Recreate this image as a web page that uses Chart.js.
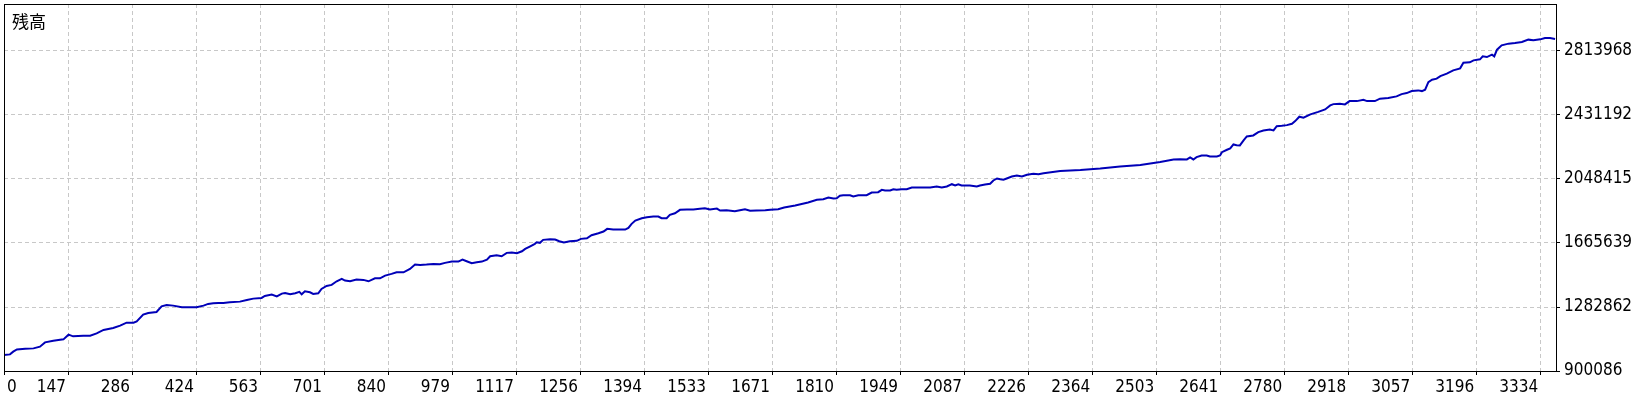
<!DOCTYPE html>
<html>
<head>
<meta charset="utf-8">
<script src="https://cdn.jsdelivr.net/npm/chart.js@4/dist/chart.umd.min.js"></script>
<style>
html,body{margin:0;padding:0;background:#fff;}
#wrap{width:1640px;height:400px;position:relative;}
</style>
</head>
<body>
<div id="wrap"><canvas id="c" width="1640" height="400"></canvas></div>
<script>
const SERIES_LABEL = '残高';

const TRADES = [0,13,20,28,46,64,78,89,107,118,129,140,150,172,187,201,216,237,252,266,281,288,302,313,331,342,353,367,386,404,418,433,443,454,465,476,490,512,527,541,559,566,581,592,603,610,621,632,641,646,653,664,671,682,689,700,711,722,733,740,751,765,780,791,805,816,827,841,852,867,881,892,903,917,932,946,957,972,986,995,1004,1015,1026,1037,1048,1055,1069,1080,1091,1102,1113,1124,1131,1142,1152,1156,1163,1170,1185,1196,1205,1215,1228,1243,1252,1265,1275,1290,1301,1309,1322,1337,1348,1355,1362,1370,1384,1395,1409,1420,1427,1438,1445,1456,1467,1482,1496,1510,1521,1532,1547,1554,1568,1586,1597,1608,1619,1633,1652,1663,1680,1693,1717,1745,1764,1778,1789,1800,1807,1814,1821,1836,1843,1854,1872,1883,1897,1905,1912,1923,1930,1937,1948,1959,1970,1988,2010,2024,2035,2046,2057,2064,2071,2078,2096,2111,2118,2129,2140,2147,2155,2162,2169,2176,2187,2198,2209,2220,2234,2245,2256,2292,2336,2379,2422,2466,2509,2538,2552,2567,2574,2581,2588,2599,2610,2617,2632,2639,2643,2654,2661,2668,2675,2682,2690,2697,2711,2722,2733,2747,2755,2762,2773,2784,2795,2802,2811,2820,2835,2852,2867,2878,2885,2899,2910,2920,2936,2950,2958,2975,2986,3004,3022,3033,3044,3055,3069,3077,3084,3091,3099,3109,3117,3131,3145,3160,3167,3181,3189,3203,3209,3218,3229,3234,3240,3250,3265,3279,3294,3308,3319,3334,3344,3355,3366];

const BALANCE = [995900,999500,1015600,1029400,1033600,1035400,1045600,1071300,1081500,1085700,1089300,1117400,1107300,1111400,1111400,1125200,1145600,1157500,1171300,1189300,1189300,1197100,1237200,1247400,1253300,1286900,1295300,1291100,1280900,1280900,1280900,1291100,1301200,1304800,1307200,1307200,1310800,1315000,1325200,1333000,1337200,1349100,1356900,1346700,1362900,1367100,1358700,1364700,1373100,1358700,1376700,1370700,1361100,1364700,1391100,1409000,1415000,1436600,1450900,1440700,1436600,1446700,1444900,1436600,1454500,1454500,1470700,1480900,1490400,1490400,1510800,1536500,1534800,1536500,1540700,1538300,1546700,1554500,1554500,1566500,1556300,1544300,1550300,1554500,1566500,1586200,1592200,1586200,1606600,1608400,1604200,1616200,1630500,1646100,1660500,1670100,1666500,1684400,1688000,1686200,1676100,1668300,1676100,1678400,1690400,1694000,1712000,1724000,1734100,1750300,1746100,1746100,1746100,1756300,1780200,1800000,1813800,1819800,1823900,1823900,1813800,1813800,1834100,1843700,1864100,1865900,1865900,1870000,1873600,1865900,1871800,1859900,1861700,1855700,1861700,1867700,1858100,1859900,1861700,1864100,1867700,1877800,1889800,1907800,1923900,1927500,1937700,1931700,1933500,1947900,1951500,1951500,1943700,1951500,1951500,1967600,1969400,1983800,1979600,1979600,1987400,1983800,1987400,1987400,1997600,1997600,1997600,2003600,1997600,2003600,2017300,2009600,2017300,2009600,2009600,2003600,2009600,2015500,2019700,2039500,2051500,2047300,2043700,2051500,2063400,2069400,2063400,2073600,2079600,2077200,2083200,2096400,2102400,2111300,2123300,2132300,2150300,2165200,2167000,2165200,2177200,2165200,2179000,2189200,2189200,2183200,2183200,2189200,2208900,2223300,2231100,2255000,2250800,2249000,2279000,2302900,2308900,2328700,2338900,2344800,2338900,2364600,2367000,2370600,2379000,2394500,2420900,2414900,2434700,2449600,2464600,2488500,2496300,2498700,2494500,2514300,2514300,2522700,2514300,2514300,2528700,2532300,2542400,2556200,2562200,2574200,2578400,2574200,2582500,2628100,2642400,2648400,2664000,2678300,2698100,2710100,2744200,2746000,2758000,2764000,2781900,2777700,2792100,2781900,2822000,2847800,2858000,2861600,2867500,2881900,2877700,2883700,2891500,2891500,2885500];

const X_TICK_LABELS = ['0','147','286','424','563','701','840','979','1117','1256','1394','1533','1671','1810','1949','2087','2226','2364','2503','2641','2780','2918','3057','3196','3334'];
const Y_TICKS = [900086,1282862,1665639,2048415,2431192,2813968];

const X_MAX = 3368;
const X_TICK_STEP = 138.9;
const Y_MIN = 900086;
const Y_MAX = 3095069;

const TICK_FONT = { family: '"DejaVu Sans Condensed", "DejaVu Sans", sans-serif', size: 17 };

const points = TRADES.map((t, i) => ({ x: t, y: BALANCE[i] }));

const framePlugin = {
  id: 'frame',
  afterDraw(chart) {
    const { ctx, chartArea: a, scales } = chart;
    ctx.save();
    ctx.strokeStyle = '#000';
    ctx.lineWidth = 1;
    ctx.setLineDash([]);
    ctx.strokeRect(Math.round(a.left) + 0.5, Math.round(a.top) + 0.5,
                   Math.round(a.right - a.left), Math.round(a.bottom - a.top));
    ctx.fillStyle = '#000';
    ctx.textAlign = 'left';
    ctx.textBaseline = 'top';
    ctx.font = '17px "Noto Sans CJK JP", sans-serif';
    ctx.fillText(SERIES_LABEL, a.left + 8, a.top + 9);
    ctx.font = '17px ' + TICK_FONT.family;
    ctx.textBaseline = 'middle';
    const x0 = scales.x.getPixelForValue(0);
    ctx.fillText(X_TICK_LABELS[0], x0 + 3, scales.x.top + 4 + 2 + 17 * 1.2 / 2);
    ctx.restore();
  }
};

const gridOpts = {
  color: '#c8c8c8',
  lineWidth: 1,
  tickLength: 4,
  tickColor: '#000',
  tickBorderDash: [],
  drawOnChartArea: true,
  drawTicks: true
};

new Chart(document.getElementById('c'), {
  type: 'line',
  data: {
    datasets: [{
      label: SERIES_LABEL,
      data: points,
      borderColor: '#0000b8',
      borderWidth: 2,
      pointRadius: 0,
      tension: 0,
      fill: false
    }]
  },
  options: {
    responsive: false,
    devicePixelRatio: 1,
    animation: false,
    layout: { padding: { left: 4, top: 4, right: 0, bottom: 0 } },
    plugins: { legend: { display: false }, tooltip: { enabled: false }, title: { display: false } },
    scales: {
      x: {
        type: 'linear',
        position: 'bottom',
        min: 0,
        max: X_MAX,
        afterBuildTicks: (s) => { s.ticks = X_TICK_LABELS.map((_, k) => ({ value: k * X_TICK_STEP })); },
        afterFit: (s) => { s.height = 29; s.paddingLeft = 0; s.paddingRight = 0; },
        grid: gridOpts,
        border: { display: true, color: '#000', width: 1, dash: [4, 3] },
        ticks: {
          autoSkip: false,
          maxRotation: 0,
          minRotation: 0,
          align: 'end',
          labelOffset: -2,
          padding: 2,
          color: '#000',
          font: TICK_FONT,
          callback: (v, i) => (i === 0 ? '' : X_TICK_LABELS[i])
        }
      },
      y: {
        type: 'linear',
        position: 'right',
        min: Y_MIN,
        max: Y_MAX,
        afterBuildTicks: (s) => { s.ticks = Y_TICKS.map(v => ({ value: v })); },
        afterFit: (s) => { s.width = 84; s.paddingTop = 0; s.paddingBottom = 0; },
        grid: gridOpts,
        border: { display: true, color: '#000', width: 1, dash: [4, 3] },
        ticks: {
          autoSkip: false,
          padding: 4,
          color: '#000',
          font: TICK_FONT,
          callback: (v, i) => String(Y_TICKS[i])
        }
      }
    }
  },
  plugins: [framePlugin]
});
</script>
</body>
</html>
